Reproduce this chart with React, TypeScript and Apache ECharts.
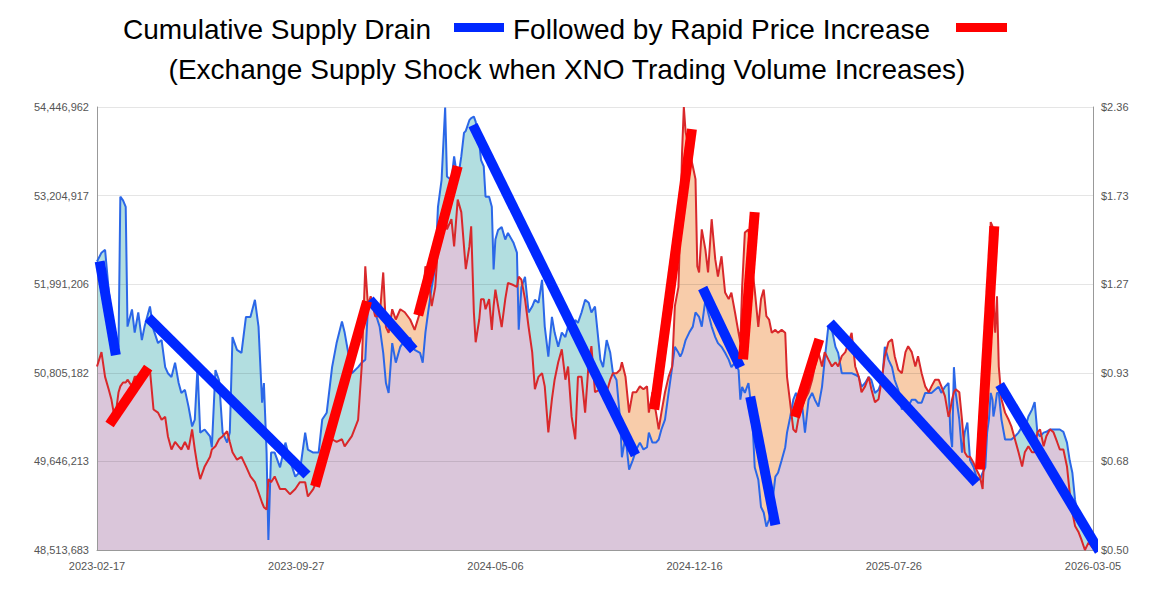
import React, { useEffect, useRef } from "react";
import * as echarts from "echarts";

// ---- axis definitions (tick labels; both value axes are logarithmic) ----
const X_TICK_LABELS = ["2023-02-17", "2023-09-27", "2024-05-06", "2024-12-16", "2025-07-26", "2026-03-05"];
const X_LABEL_STEP = 222; // daily records between labelled ticks
const X_LAST_INDEX = 1110;
const SUPPLY_TICKS = [48513683, 49646213, 50805182, 51991206, 53204917, 54446962];
const PRICE_TICKS = [0.5, 0.68, 0.93, 1.27, 1.73, 2.36];

// ---- series: daily record index, exchange supply (millions XNO), price (USD) ----
const dayIndex = [
  0, 5, 9, 13, 16, 20, 24, 26, 29, 32, 34, 39, 42, 46, 50, 53, 59, 63, 68, 72,
  76, 79, 83, 87, 91, 94, 98, 102, 106, 109, 112, 115, 120, 126, 128, 132, 136, 140, 145, 148,
  151, 156, 161, 166, 171, 176, 180, 184, 186, 189, 191, 194, 198, 204, 210, 215, 221, 226, 232, 235,
  241, 247, 251, 256, 262, 267, 273, 276, 284, 291, 295, 299, 302, 305, 310, 315, 319, 322, 325, 329,
  333, 338, 343, 349, 354, 360, 363, 366, 369, 373, 377, 380, 384, 388, 390, 395, 398, 402, 406, 409,
  411, 415, 417, 420, 422, 426, 428, 431, 433, 437, 440, 442, 444, 447, 451, 455, 458, 464, 468, 470,
  473, 477, 481, 485, 488, 492, 496, 499, 503, 507, 510, 514, 518, 522, 525, 529, 533, 536, 540, 544,
  548, 551, 555, 561, 564, 568, 572, 575, 579, 583, 585, 589, 593, 597, 601, 605, 609, 613, 615, 619,
  623, 626, 629, 633, 637, 641, 644, 648, 650, 652, 654, 656, 660, 664, 667, 669, 671, 674, 678, 681,
  685, 689, 692, 696, 700, 704, 707, 711, 715, 717, 719, 722, 726, 730, 733, 737, 740, 743, 746, 749,
  752, 756, 759, 763, 767, 769, 772, 776, 779, 782, 786, 789, 793, 797, 800, 804, 808, 811, 815, 819,
  823, 826, 830, 834, 841, 845, 849, 852, 856, 860, 863, 867, 871, 875, 878, 882, 886, 889, 893, 897,
  901, 904, 908, 912, 915, 919, 923, 927, 930, 934, 938, 941, 945, 949, 951, 953, 955, 957, 961, 964,
  967, 970, 973, 977, 980, 984, 987, 990, 992, 994, 996, 998, 999, 1001, 1003, 1005, 1008, 1012, 1016, 1019,
  1023, 1027, 1031, 1034, 1038, 1042, 1045, 1048, 1051, 1055, 1058, 1062, 1066, 1070, 1073, 1077, 1081, 1084, 1087, 1090,
  1094, 1097, 1101, 1105, 1110,
];

const supplyM = [
  52.30, 52.42, 52.46, 51.91, 51.55, 51.07, 51.15, 53.19, 53.14, 53.05, 51.42, 51.65, 51.34, 51.61, 51.24, 51.42, 51.69, 51.38, 51.20, 51.24,
  50.88, 50.80, 50.75, 50.94, 50.67, 50.54, 50.58, 50.36, 50.10, 50.19, 50.88, 50.02, 50.06, 49.97, 49.83, 50.84, 50.71, 50.02, 49.89, 50.02,
  51.28, 51.11, 51.07, 51.55, 51.55, 51.78, 51.42, 50.41, 50.67, 49.76, 48.64, 49.76, 49.76, 49.57, 49.89, 49.66, 49.45, 49.51, 50.02, 49.80,
  49.76, 49.76, 50.19, 50.28, 50.88, 51.20, 51.49, 51.34, 50.80, 50.88, 50.94, 50.98, 51.69, 51.78, 51.61, 51.42, 51.07, 50.67, 50.54, 51.20,
  50.94, 51.15, 51.24, 51.27, 51.11, 51.07, 50.94, 51.34, 51.61, 51.95, 52.23, 53.05, 53.42, 54.44, 53.47, 53.42, 53.75, 53.42, 53.75, 54.08,
  54.11, 54.26, 54.29, 54.31, 54.24, 53.94, 53.70, 53.61, 53.19, 53.19, 53.05, 52.19, 52.60, 52.73, 52.77, 52.60, 52.69, 52.56, 52.42, 51.38,
  51.95, 52.09, 51.61, 51.69, 51.78, 51.74, 52.05, 51.42, 51.02, 51.55, 51.34, 51.15, 51.34, 51.28, 51.42, 51.34, 51.51, 51.47, 51.61, 51.78,
  51.74, 51.61, 51.69, 50.98, 50.88, 51.24, 51.07, 50.80, 50.71, 50.19, 49.70, 49.97, 49.54, 49.66, 49.80, 49.89, 49.80, 49.83, 50.02, 49.89,
  49.89, 49.93, 50.06, 50.19, 50.54, 50.88, 51.15, 51.07, 51.02, 51.07, 51.15, 51.24, 51.34, 51.42, 51.61, 51.58, 51.55, 51.42, 51.78, 51.61,
  51.42, 51.28, 51.20, 51.15, 51.07, 50.98, 50.88, 50.94, 50.84, 50.45, 50.62, 50.54, 50.67, 50.28, 49.57, 49.41, 49.06, 48.99, 48.81, 48.90,
  49.06, 49.45, 49.50, 49.66, 49.83, 50.02, 50.19, 50.45, 50.54, 50.45, 50.36, 50.02, 50.45, 50.54, 50.45, 50.36, 50.62, 50.98, 51.42, 51.38,
  51.15, 51.07, 50.80, 50.80, 50.80, 50.78, 50.75, 50.62, 50.67, 50.75, 50.71, 50.54, 50.58, 50.71, 51.15, 50.98, 50.88, 50.71, 50.58, 50.32,
  50.45, 50.36, 50.45, 50.45, 50.41, 50.41, 50.54, 50.54, 50.54, 50.58, 50.62, 50.54, 50.62, 50.67, 50.02, 49.83, 50.88, 50.54, 50.19, 49.76,
  50.02, 50.15, 49.66, 49.57, 49.45, 49.41, 49.50, 49.57, 50.02, 50.19, 50.54, 50.45, 50.23, 50.36, 50.54, 50.54, 50.19, 49.93, 49.93, 49.93,
  49.97, 50.02, 50.10, 50.06, 50.23, 50.32, 50.42, 50.02, 49.97, 50.02, 50.03, 50.06, 50.06, 50.06, 50.06, 50.03, 49.89, 49.66, 49.50, 49.15,
  48.90, 48.81, 48.73, 48.64, 48.54,
];

const priceUsd = [
  0.951, 1.000, 0.917, 0.878, 0.848, 0.789, 0.869, 0.887, 0.899, 0.899, 0.908, 0.887, 0.917, 0.917, 0.929, 0.929, 0.940, 0.818, 0.809, 0.789,
  0.797, 0.745, 0.711, 0.730, 0.719, 0.711, 0.730, 0.711, 0.763, 0.711, 0.670, 0.641, 0.670, 0.693, 0.711, 0.719, 0.737, 0.745, 0.758, 0.730,
  0.704, 0.686, 0.693, 0.670, 0.647, 0.634, 0.612, 0.590, 0.581, 0.576, 0.641, 0.634, 0.647, 0.619, 0.619, 0.608, 0.619, 0.634, 0.634, 0.603,
  0.619, 0.647, 0.693, 0.719, 0.737, 0.730, 0.737, 0.719, 0.745, 0.789, 0.951, 1.351, 1.175, 1.216, 1.134, 1.134, 1.322, 1.092, 1.070, 1.162,
  1.121, 1.162, 1.150, 1.121, 1.081, 1.150, 1.204, 1.351, 1.303, 1.175, 1.257, 1.448, 1.554, 1.666, 1.537, 1.593, 1.448, 1.706, 1.633, 1.448,
  1.337, 1.448, 1.554, 1.150, 1.035, 1.121, 1.204, 1.204, 1.162, 1.204, 1.081, 1.175, 1.245, 1.175, 1.092, 1.204, 1.274, 1.265, 1.257, 1.303,
  1.289, 1.204, 1.092, 1.000, 0.878, 0.917, 0.929, 0.887, 0.755, 0.848, 0.908, 0.965, 1.010, 0.908, 0.951, 0.797, 0.737, 0.917, 0.917, 0.809,
  0.965, 1.021, 0.869, 0.878, 0.887, 0.869, 0.908, 0.929, 0.929, 0.940, 0.965, 0.917, 0.809, 0.869, 0.869, 0.887, 0.878, 0.887, 0.809, 0.869,
  0.809, 0.763, 0.809, 0.869, 0.917, 0.951, 1.175, 1.257, 1.554, 2.010, 2.360, 2.161, 2.031, 1.918, 1.833, 1.351, 1.322, 1.537, 1.433, 1.322,
  1.593, 1.385, 1.303, 1.399, 1.232, 1.204, 1.232, 1.150, 1.070, 1.035, 1.257, 1.520, 1.537, 1.351, 1.245, 1.092, 1.204, 1.245, 1.134, 1.121,
  1.070, 1.081, 1.070, 1.081, 1.070, 0.917, 0.848, 0.763, 0.755, 0.797, 0.827, 0.848, 0.869, 0.908, 0.951, 1.000, 0.951, 1.000, 0.975, 0.951,
  0.965, 0.951, 0.986, 1.000, 1.070, 0.951, 0.917, 0.869, 0.887, 0.917, 0.878, 0.839, 0.848, 0.917, 0.986, 1.035, 1.046, 0.986, 0.940, 0.929,
  1.000, 1.021, 1.000, 0.951, 0.986, 0.929, 0.887, 0.869, 0.887, 0.908, 0.908, 0.887, 0.857, 0.797, 0.818, 0.848, 0.869, 0.878, 0.869, 0.789,
  0.704, 0.693, 0.693, 0.678, 0.663, 0.647, 0.619, 0.755, 0.848, 1.070, 1.577, 1.554, 1.204, 1.070, 1.216, 0.951, 0.848, 0.809, 0.789, 0.771,
  0.737, 0.704, 0.670, 0.704, 0.719, 0.704, 0.704, 0.755, 0.763, 0.719, 0.745, 0.763, 0.755, 0.730, 0.711, 0.711, 0.670, 0.612, 0.570, 0.544,
  0.532, 0.519, 0.500, 0.513, 0.504,
];

// ---- annotation strokes: [startIndex, startValue, endIndex, endValue] ----
// blue: cumulative supply drain (supply, millions)
const drainSegments = [
  [3, 52.30, 21, 51.04],
  [57, 51.54, 234, 49.47],
  [304, 51.78, 353, 51.11],
  [419, 54.19, 600, 49.73],
  [675, 51.94, 717, 50.88],
  [728, 50.49, 756, 48.83],
  [817, 51.47, 980, 49.37],
  [1006, 50.65, 1117, 48.5],
];
// red: rapid price increase (price, USD)
const priceSegments = [
  [14, 0.776, 57, 0.947],
  [243, 0.625, 301, 1.195],
  [358, 1.138, 402, 1.918],
  [621, 0.818, 663, 2.184],
  [720, 0.975, 733, 1.633],
  [778, 0.797, 805, 1.046],
  [984, 0.663, 1000, 1.554],
];

const TITLE_1A = "Cumulative Supply Drain";
const TITLE_1B = "Followed by Rapid Price Increase";
const TITLE_2 = "(Exchange Supply Shock when XNO Trading Volume Increases)";

const S_MIN = SUPPLY_TICKS[0];
const S_MAX = SUPPLY_TICKS[SUPPLY_TICKS.length - 1];
const P_MIN = PRICE_TICKS[0];
const P_MAX = PRICE_TICKS[PRICE_TICKS.length - 1];
const STEPS = SUPPLY_TICKS.length - 1;

// log-scale mapping onto the shared 0..STEPS axis
const normS = (m: number) => (STEPS * Math.log((m * 1e6) / S_MIN)) / Math.log(S_MAX / S_MIN);
const normP = (p: number) => (STEPS * Math.log(p / P_MIN)) / Math.log(P_MAX / P_MIN);

const FONT = "'Liberation Sans', Arial, sans-serif";
const BLUE_THIN = "#2b67e8";
const RED_THIN = "#d9282b";
const BLUE_THICK = "#0028ff";
const RED_THICK = "#ff0000";
const FILL_SUPPLY_ABOVE = "#b2dee0";
const FILL_PRICE_ABOVE = "#f8ccaa";
const FILL_BELOW_BOTH = "#dac6da";

export default function App() {
  const ref = useRef<HTMLDivElement>(null);

  useEffect(() => {
    document.body.style.margin = "0";
    const chart = echarts.init(ref.current as HTMLDivElement, null, { renderer: "svg" });

    const sN = supplyM.map(normS);
    const pN = priceUsd.map(normP);
    const lower = sN.map((s, i) => Math.min(s, pN[i]));

    const areaSeries = (name: string, vals: number[], color: string) => ({
      name,
      type: "line",
      data: dayIndex.map((d, i) => [d, vals[i]]),
      showSymbol: false,
      symbol: "none",
      silent: true,
      lineStyle: { width: 0, opacity: 0 },
      areaStyle: { color, opacity: 1 },
      z: 1,
    });

    const segSeries = (segs: number[][], norm: (v: number) => number, color: string) =>
      segs.map((s) => ({
        type: "line",
        data: [
          [s[0], norm(s[1])],
          [s[2], norm(s[3])],
        ],
        symbol: "none",
        clip: false,
        silent: true,
        lineStyle: { color, width: 10, cap: "butt" },
        z: 6,
      }));

    const textStyle = (text: string, align: string) => ({
      text,
      fill: "#000",
      fontSize: 28,
      fontFamily: FONT,
      textAlign: align,
      textVerticalAlign: "middle",
      align,
      verticalAlign: "middle",
    });

    const option: any = {
      animation: false,
      backgroundColor: "#ffffff",
      grid: { left: 97, right: 74, top: 107, bottom: 59, containLabel: false },
      graphic: [
        { type: "text", x: 123, y: 29, style: textStyle(TITLE_1A, "left") },
        { type: "rect", shape: { x: 454, y: 23, width: 50, height: 9 }, style: { fill: BLUE_THICK } },
        { type: "text", x: 513, y: 29, style: textStyle(TITLE_1B, "left") },
        { type: "rect", shape: { x: 956, y: 23, width: 51, height: 9 }, style: { fill: RED_THICK } },
        { type: "text", x: 567, y: 69, style: textStyle(TITLE_2, "center") },
      ],
      xAxis: {
        type: "value",
        min: 0,
        max: X_LAST_INDEX,
        interval: X_LABEL_STEP,
        z: 2,
        axisLine: { show: true, lineStyle: { color: "#999", width: 1 } },
        axisTick: { show: false },
        splitLine: { show: false },
        axisLabel: {
          color: "#555",
          fontSize: 11,
          fontFamily: FONT,
          margin: 10,
          formatter: (v: number) => X_TICK_LABELS[Math.round(v / X_LABEL_STEP)] ?? "",
        },
      },
      yAxis: [
        {
          type: "value",
          min: 0,
          max: STEPS,
          interval: 1,
          position: "left",
          z: 2,
          axisLine: { show: true, lineStyle: { color: "#999", width: 1 } },
          axisTick: { show: false },
          splitLine: { show: true, lineStyle: { color: "rgba(0,0,0,0.1)", width: 1 } },
          axisLabel: {
            color: "#555",
            fontSize: 11,
            fontFamily: FONT,
            margin: 8,
            formatter: (v: number) => SUPPLY_TICKS[Math.round(v)].toLocaleString("en-US"),
          },
        },
        {
          type: "value",
          min: 0,
          max: STEPS,
          interval: 1,
          position: "right",
          z: 2,
          axisLine: { show: true, lineStyle: { color: "#999", width: 1 } },
          axisTick: { show: false },
          splitLine: { show: false },
          axisLabel: {
            color: "#555",
            fontSize: 11,
            fontFamily: FONT,
            margin: 8,
            formatter: (v: number) => "$" + PRICE_TICKS[Math.round(v)].toFixed(2),
          },
        },
      ],
      series: [
        areaSeries("supply area", sN, FILL_SUPPLY_ABOVE),
        areaSeries("price area", pN, FILL_PRICE_ABOVE),
        areaSeries("common area", lower, FILL_BELOW_BOTH),
        {
          name: "Exchange supply",
          type: "line",
          data: dayIndex.map((d, i) => [d, sN[i]]),
          showSymbol: false,
          symbol: "none",
          lineStyle: { color: BLUE_THIN, width: 2 },
          z: 3,
        },
        {
          name: "XNO price",
          type: "line",
          data: dayIndex.map((d, i) => [d, pN[i]]),
          showSymbol: false,
          symbol: "none",
          lineStyle: { color: RED_THIN, width: 2 },
          z: 4,
        },
        ...segSeries(drainSegments, normS, BLUE_THICK),
        ...segSeries(priceSegments, normP, RED_THICK),
      ],
    };

    chart.setOption(option);
    return () => chart.dispose();
  }, []);

  return (
    <div
      ref={ref}
      style={{ position: "fixed", left: 0, top: 0, width: 1167, height: 609 }}
    />
  );
}
